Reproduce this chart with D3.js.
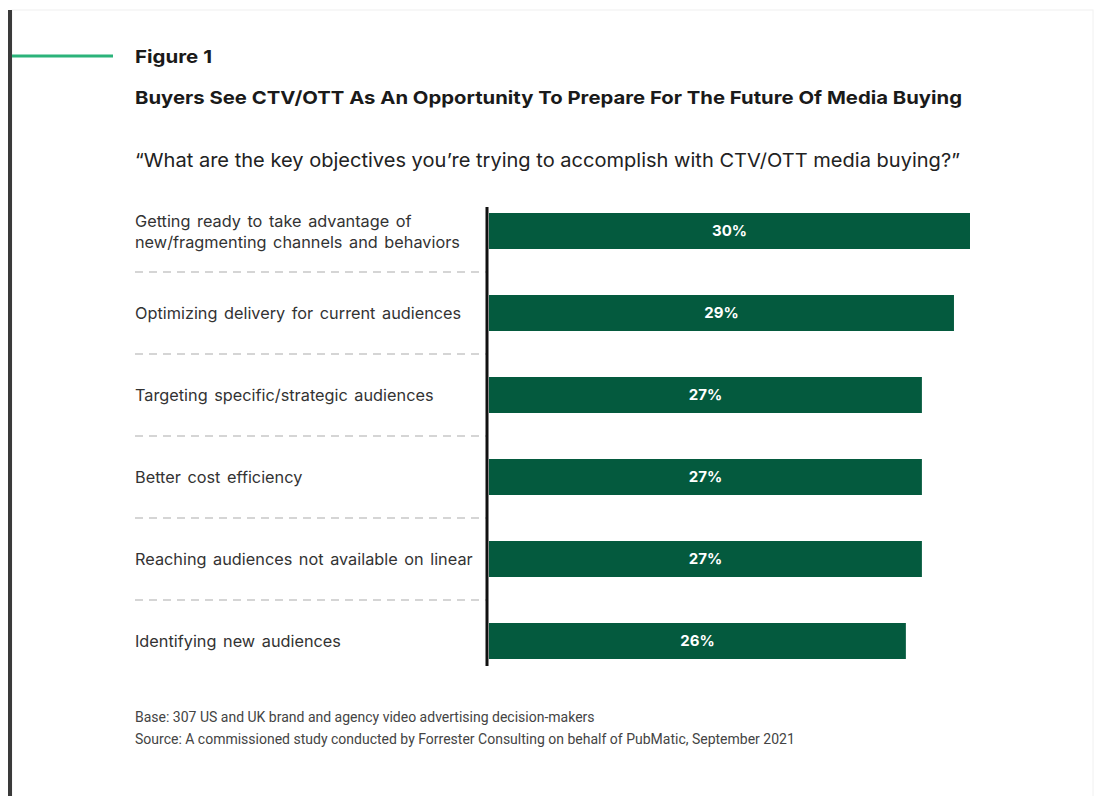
<!DOCTYPE html>
<html><head><meta charset="utf-8">
<script src="https://cdn.jsdelivr.net/npm/d3@7"></script>
<style>body{margin:0;background:#fff;}svg{display:block;}</style>
</head><body>
<script>
const categories = [
  ["Getting ready to take advantage of", "new/fragmenting channels and behaviors"],
  ["Optimizing delivery for current audiences"],
  ["Targeting specific/strategic audiences"],
  ["Better cost efficiency"],
  ["Reaching audiences not available on linear"],
  ["Identifying new audiences"]
];
const values = [30, 29, 27, 27, 27, 26];
const figureLabel = "Figure 1";
const title = "Buyers See CTV/OTT As An Opportunity To Prepare For The Future Of Media Buying";
const question = "\u201CWhat are the key objectives you\u2019re trying to accomplish with CTV/OTT media buying?\u201D";
const notes = ["Base: 307 US and UK brand and agency video advertising decision-makers",
  "Source: A commissioned study conducted by Forrester Consulting on behalf of PubMatic, September 2021"];

const W = 1094, H = 796;
const svg = d3.select("body").append("svg").attr("width", W).attr("height", H);
const font = "Inter, 'Noto Sans', sans-serif";

// frame
svg.append("rect").attr("x", 12).attr("y", 10).attr("width", 1081).attr("height", 790).attr("fill", "#fff").attr("stroke", "#f0f0f0");
svg.append("rect").attr("x", 8).attr("y", 10).attr("width", 4).attr("height", 786).attr("fill", "#3a3a3a");
svg.append("line").attr("x1", 12).attr("x2", 113).attr("y1", 56).attr("y2", 56).attr("stroke", "#2bb37a").attr("stroke-width", 3);

function fitText(sel, w) { sel.attr("textLength", w).attr("lengthAdjust", "spacingAndGlyphs"); }

const t1 = svg.append("text").attr("x", 135).attr("y", 63).text(figureLabel)
  .attr("font-family", font).attr("font-weight", 700).attr("font-size", 18).attr("fill", "#1a1a1a");
fitText(t1, 77);
const t2 = svg.append("text").attr("x", 135).attr("y", 104).text(title)
  .attr("font-family", font).attr("font-weight", 700).attr("font-size", 18).attr("fill", "#1a1a1a");
fitText(t2, 827);
const t3 = svg.append("text").attr("x", 135).attr("y", 167).text(question)
  .attr("font-family", font).attr("font-size", 19).attr("fill", "#222");
fitText(t3, 825);

const x = d3.scaleLinear().domain([0, 30]).range([489, 970]);
const y = d3.scaleBand().domain(d3.range(categories.length)).range([190, 682])
  .paddingInner(46/82).paddingOuter(23/82);

// dashed separators
const seps = d3.range(categories.length - 1);
svg.selectAll("line.sep").data(seps).join("line")
  .attr("x1", 135).attr("x2", 486)
  .attr("y1", i => y(i) + y.bandwidth() + 23).attr("y2", i => y(i) + y.bandwidth() + 23)
  .attr("stroke", "#c8c8c8").attr("stroke-width", 1.5).attr("stroke-dasharray", "8,6");

// bars
svg.selectAll("rect.bar").data(values).join("rect")
  .attr("x", x(0)).attr("y", (d, i) => y(i)).attr("width", d => x(d) - x(0))
  .attr("height", y.bandwidth()).attr("fill", "#045a3e");

svg.selectAll("text.val").data(values).join("text")
  .attr("x", d => (x(0) + x(d)) / 2).attr("y", (d, i) => y(i) + y.bandwidth() / 2 + 5)
  .attr("text-anchor", "middle").text(d => d + "%")
  .attr("font-family", font).attr("font-weight", 700).attr("font-size", 15).attr("fill", "#fff");

// labels
const lab = svg.selectAll("text.lab").data(categories).join("text")
  .attr("font-family", font).attr("font-size", 16.3).attr("fill", "#333")
  .attr("word-spacing", "2px");
lab.each(function(lines, i) {
  const t = d3.select(this);
  const cy = y(i) + y.bandwidth() / 2;
  const lh = 21;
  lines.forEach((l, j) => {
    t.append("tspan").attr("x", 135)
      .attr("y", cy + 6 + (j - (lines.length - 1) / 2) * lh).text(l);
  });
});

// axis line
svg.append("line").attr("x1", 487).attr("x2", 487).attr("y1", 207).attr("y2", 666)
  .attr("stroke", "#111").attr("stroke-width", 3);

svg.selectAll("text.note").data(notes).join("text")
  .attr("x", 135).attr("y", (d, i) => 722 + i * 22).text(d => d)
  .attr("font-family", "Roboto, sans-serif").attr("font-size", 14).attr("fill", "#444");
</script>
</body></html>
